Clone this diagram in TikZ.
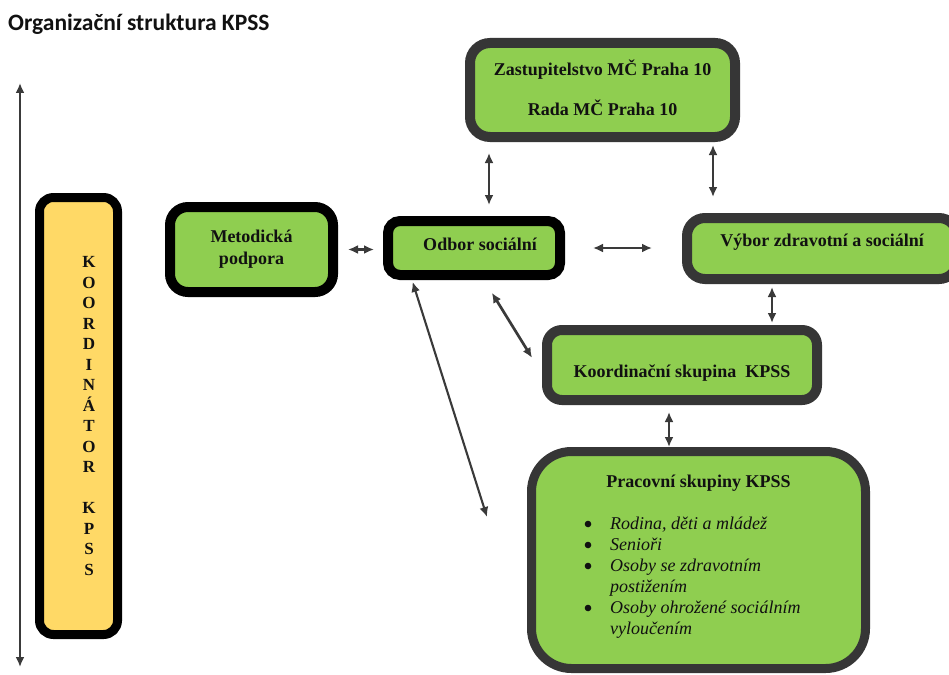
\documentclass[tikz,border=0pt]{standalone}
\usepackage{fontspec}
\setmainfont{Liberation Serif}
\newfontfamily\titlefont{Carlito}
\usetikzlibrary{arrows.meta}
\definecolor{boxgreen}{HTML}{8FCE50}
\definecolor{boxyellow}{HTML}{FFD966}
\definecolor{darkborder}{HTML}{363636}
\definecolor{arrowgray}{HTML}{3A3A3A}
\definecolor{txtcol}{HTML}{111111}
\tikzset{
  box/.style={draw=darkborder, fill=boxgreen, line width=10pt, inner sep=0pt, rounded corners=16pt},
  blackbox/.style={box, draw=black},
  txt/.style={text=txtcol, font=\fontsize{18}{22}\selectfont\bfseries, align=center, inner sep=0pt},
  arr/.style={draw=arrowgray, line width=2.7pt, {Latex[length=10pt,width=9pt]}-{Latex[length=10pt,width=9pt]}},
  thinarr/.style={arr, line width=2.1pt},
  bul/.style={fill=txtcol},
}
\begin{document}
\begin{tikzpicture}[x=1pt,y=-1pt]
\useasboundingbox (0,0) rectangle (949,674);
\clip (0,0) rectangle (949,674);
\fill[white] (0,0) rectangle (949,674);

% title
\node[anchor=base west, inner sep=0pt, text=txtcol, font=\titlefont\bfseries\fontsize{23.5}{28}\selectfont] (title) at (8,31) {Organizační struktura KPSS};

% boxes
\node[blackbox, fill=boxyellow, line width=9pt, rounded corners=14pt, minimum width=78pt, minimum height=437pt] (koordinator) at (78.5,416) {};
\node[txt, font=\fontsize{17}{20.5}\selectfont\bfseries] (koordtxt) at (89,416) {K\\O\\O\\R\\D\\I\\N\\Á\\T\\O\\R\\[20.5pt]K\\P\\S\\S};

\node[blackbox, rounded corners=18pt, minimum width=163pt, minimum height=85pt] (met) at (251.5,249.5) {};
\node[txt] (mettxt) at (met.center) {Metodická\\podpora};

\node[blackbox, rounded corners=12pt, minimum width=172pt, minimum height=54pt] (odbor) at (474,248) {};
\node[txt] (odbortxt) at ([xshift=6pt,yshift=4pt]odbor.center) {Odbor sociální};

\node[box, rounded corners=20pt, minimum width=265pt, minimum height=94pt] (zast) at (602.5,90) {};
\node[txt] (zasttxt) at ([yshift=2pt]zast.center) {Zastupitelstvo MČ Praha 10\\[18pt]Rada MČ Praha 10};

\node[box, rounded corners=18pt, minimum width=270pt, minimum height=61pt] (vybor) at (822,248.5) {};
\node[txt] (vybortxt) at ([yshift=6pt]vybor.center) {Výbor zdravotní a sociální};

\node[box, rounded corners=15pt, minimum width=270pt, minimum height=70pt] (koord) at (682,365) {};
\node[txt] (koordtxt2) at ([yshift=-8pt]koord.center) {Koordinační skupina\ \ KPSS};

\node[box, line width=9pt, rounded corners=40pt, minimum width=334pt, minimum height=217pt] (prac) at (698.5,560) {};
\node[txt] (practitle) at (698.5,483) {Pracovní skupiny KPSS};
\node[anchor=north west, inner sep=0pt, text=txtcol, font=\fontsize{18}{21}\selectfont] (praclist) at (583,515) {%
\begin{tabular}{@{}p{27pt}@{}l@{}}
 & \textit{Rodina, děti a mládež}\\
 & \textit{Senioři}\\
 & \textit{Osoby se zdravotním}\\
 & \textit{postižením}\\
 & \textit{Osoby ohrožené sociálním}\\
 & \textit{vyloučením}
\end{tabular}};
\fill[bul] ([xshift=5pt,yshift=-9pt]praclist.north west) circle (3.3pt);
\fill[bul] ([xshift=5pt,yshift=-30pt]praclist.north west) circle (3.3pt);
\fill[bul] ([xshift=5pt,yshift=-51pt]praclist.north west) circle (3.3pt);
\fill[bul] ([xshift=5pt,yshift=-93pt]praclist.north west) circle (3.3pt);

% connectors
\draw[arr, shorten <=10pt, shorten >=9pt] (met.east) -- (met.east -| odbor.west);
\draw[arr, shorten <=11pt, shorten >=11pt] ([xshift=15pt]odbor.north) -- ([xshift=15pt]odbor.north |- zast.south);
\draw[arr, shorten <=16pt, shorten >=3pt] ([xshift=31pt]vybor.north west) -- ([xshift=31pt]vybor.north west |- zast.south);
\draw[arr, shorten <=28pt, shorten >=30pt] (odbor.east) -- (odbor.east -| vybor.west);
\draw[arr, shorten <=2pt, shorten >=3pt] ([xshift=-50pt]koord.north east) -- ([xshift=-50pt]koord.north east |- vybor.south);
\draw[arr, shorten <=7pt, shorten >=0pt] ([xshift=-13pt]koord.south) -- ([xshift=-13pt]koord.south |- prac.north);
\draw[arr, shorten <=15pt, shorten >=19pt] ([xshift=10pt]odbor.south) -- ([yshift=-9pt]koord.west);
\coordinate (lend) at (487,517);
\draw[thinarr, shorten <=2pt] ([xshift=-62pt]odbor.south) -- (lend);
\coordinate (ltop) at (20,83);
\coordinate (lbot) at (20,667);
\draw[thinarr] (ltop) -- (lbot);
\end{tikzpicture}
\end{document}
